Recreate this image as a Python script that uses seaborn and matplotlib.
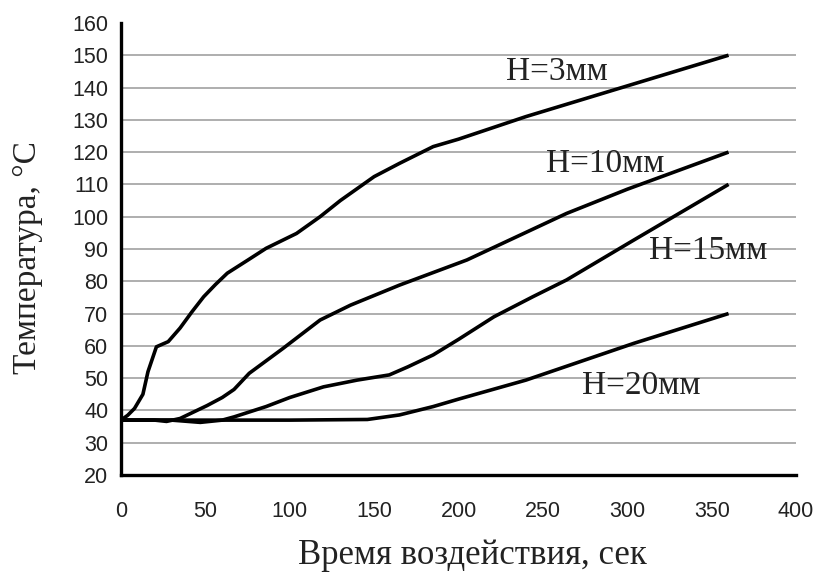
import matplotlib
matplotlib.use("Agg")
import matplotlib.pyplot as plt
import seaborn as sns
import pandas as pd
from matplotlib.ticker import MultipleLocator

# ---- data ----
x_h3 = [0, 4, 8, 13, 16, 21, 28, 35, 42, 49, 56, 63, 75, 86, 104, 118, 130, 150, 165, 185, 200, 240, 300, 360]
t_h3 = [37, 38.5, 40.6, 45, 52, 59.7, 61.3, 65.5, 70.5, 75.2, 79, 82.5, 86.5, 90.2, 94.8, 100, 105, 112.4, 116.5, 121.7, 124, 131, 140.5, 150]

x_h10 = [0, 20, 27, 35, 41, 51, 60, 67, 76, 96, 118, 136, 165, 205, 264, 300, 360]
t_h10 = [37, 37, 36.6, 37.5, 39, 41.5, 44, 46.5, 51.5, 59.2, 68, 72.6, 78.8, 86.6, 101, 108.5, 120]

x_h15 = [0, 30, 47, 60, 67, 86, 100, 120, 140, 159, 170, 185, 200, 221, 244, 264, 304, 360]
t_h15 = [37, 37, 36.3, 37, 38, 41.2, 44, 47.3, 49.4, 51, 53.5, 57.2, 62, 69, 75.2, 80.4, 92.8, 110]

x_h20 = [0, 100, 146, 165, 185, 200, 240, 304, 360]
t_h20 = [37, 37, 37.2, 38.6, 41.2, 43.5, 49.4, 60.8, 70]

labels = ["H=3мм", "H=10мм", "H=15мм", "H=20мм"]
label_x = [258, 287, 348, 308]
label_t = [145.0, 116.4, 89.5, 47.7]

xlabel = "Время воздействия, сек"
ylabel = "Температура, °C"

# ---- plot ----
sns.set_style("white")
plt.rcParams['font.family'] = ['Liberation Sans', 'DejaVu Sans']

fig = plt.figure(figsize=(8.19, 5.73), dpi=100)
ax = fig.add_axes([0.1477, 0.171, 0.972 - 0.1477, 0.96 - 0.171])

series = [(x_h3, t_h3), (x_h10, t_h10), (x_h15, t_h15), (x_h20, t_h20)]
for (xs, ts), lab in zip(series, labels):
    df = pd.DataFrame({"t": xs, "T": ts})
    sns.lineplot(data=df, x="t", y="T", ax=ax, color="black", linewidth=2.6,
                 sort=False, estimator=None, solid_joinstyle="round", solid_capstyle="butt", zorder=3)

for lab, lx, lt in zip(labels, label_x, label_t):
    ax.text(lx, lt, lab, ha="center", va="center", fontsize=24,
            family=['Liberation Serif', 'DejaVu Serif'], color="#222222", zorder=4)

ax.set_xlim(0, 400)
ax.set_ylim(20, 160)
ax.xaxis.set_major_locator(MultipleLocator(50))
ax.xaxis.set_minor_locator(MultipleLocator(10))
ax.yaxis.set_major_locator(MultipleLocator(10))
ax.yaxis.set_minor_locator(MultipleLocator(5))

ax.grid(axis="y", which="major", color="#a8a8a8", linewidth=1.3, zorder=0)
ax.set_axisbelow(True)
for gl, v in zip(ax.get_ygridlines(), ax.get_yticks()):
    if v >= 160 or v <= 20:
        gl.set_visible(False)

for s in ["top", "right"]:
    ax.spines[s].set_visible(False)
for s in ["left", "bottom"]:
    ax.spines[s].set_color("black")
    ax.spines[s].set_linewidth(2.4)

ax.tick_params(axis="both", which="major", direction="out", length=5, width=2.2,
               color="black", labelsize=15.5, labelcolor="#222222")
ax.tick_params(axis="x", which="major", pad=14)
ax.tick_params(axis="y", which="major", pad=4)
ax.tick_params(axis="both", which="minor", direction="out", length=3, width=1.8, color="black")

ax.set_xlabel(xlabel, fontsize=25, family=['Liberation Serif', 'DejaVu Serif'],
              color="#222222")
ax.set_ylabel(ylabel, fontsize=24, family=['Liberation Serif', 'DejaVu Serif'],
              color="#222222")
ax.xaxis.set_label_coords(0.52, -0.142)
ax.yaxis.set_label_coords(-0.115, 0.48)

fig.savefig("out.png", dpi=100)
